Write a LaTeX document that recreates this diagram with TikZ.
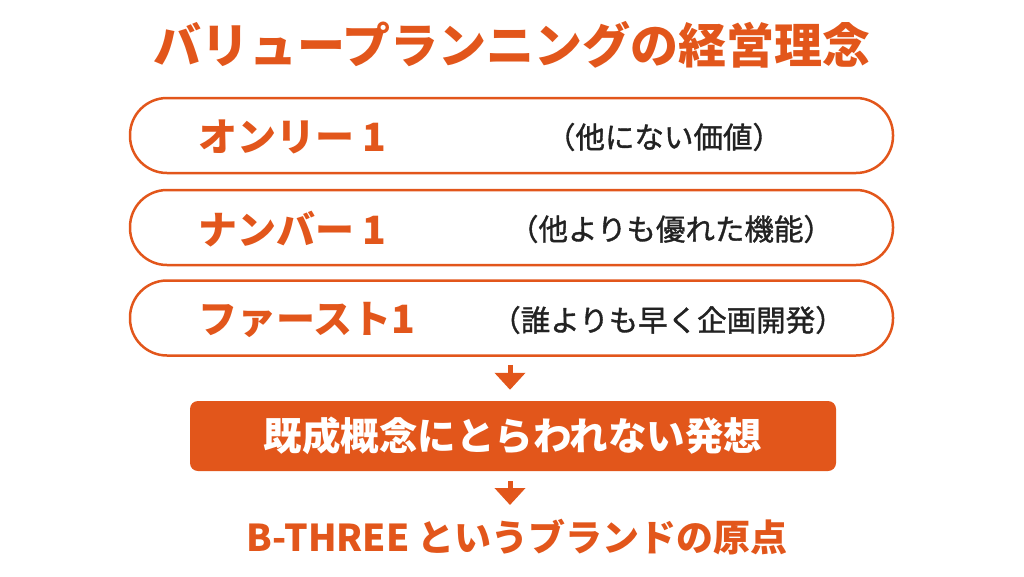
\documentclass[tikz,border=0pt]{standalone}
\usepackage{fontspec}
\setmainfont{Noto Sans CJK JP}
\newfontfamily\subfont{Noto Sans CJK JP}[FakeBold=1.2]
\usetikzlibrary{arrows.meta}
\definecolor{vporange}{HTML}{E2561B}
\definecolor{vpdark}{HTML}{222222}
\tikzset{
  pillbox/.style={draw=vporange, line width=2.5pt, rounded corners=37pt, minimum width=763pt, minimum height=75pt, inner sep=0pt},
  mainlabel/.style={anchor=west, text=vporange, font=\fontsize{39}{39}\selectfont\bfseries, inner sep=0pt},
  sublabel/.style={text=vpdark, font=\fontsize{29.5}{29.5}\subfont, inner sep=0pt},
  flowarrow/.style={draw=vporange, line width=5pt, -{Triangle[width=30pt,length=17pt]}},
}
\begin{document}
\begin{tikzpicture}[x=1pt,y=-1pt]
\useasboundingbox (0,0) rectangle (1024,576);
\node[text=vporange, font=\fontsize{48}{48}\selectfont\bfseries, inner sep=0pt] (title) at (512,45) {バリュープランニングの経営理念};

\node[pillbox] (b1) at (511.5,135.5) {};
\node[pillbox] (b2) at (511.5,227.5) {};
\node[pillbox] (b3) at (511.5,318) {};

\node[mainlabel] (l1) at (198,137) {オンリー\kern8pt 1};
\node[mainlabel] (l2) at (198,229) {ナンバー\kern8pt 1};
\node[mainlabel] (l3) at (198,320) {ファースト1};

\node[sublabel] (s1) at (664,137) {（他にない価値）};
\node[sublabel] (s2) at (671,229) {（他よりも優れた機能）};
\node[sublabel] (s3) at (668,320) {（誰よりも早く企画開発）};

\node[fill=vporange, rounded corners=8pt, minimum width=646pt, minimum height=70pt, inner sep=0pt, text=white, font=\fontsize{38.5}{38.5}\selectfont\bfseries] (idea) at (513,436) {既成概念にとらわれない発想};

\node[text=vporange, font=\fontsize{37}{37}\selectfont\bfseries, inner sep=0pt] (origin) at (517,537) {B-THREE というブランドの原点};

\draw[flowarrow, shorten <=8pt, shorten >=11pt] (b3.south -| 510,0) -- (idea.north -| 510,0);
\coordinate (a2end) at (510,505);
\draw[flowarrow, shorten <=10pt] (idea.south -| 510,0) -- (a2end);
\end{tikzpicture}
\end{document}
